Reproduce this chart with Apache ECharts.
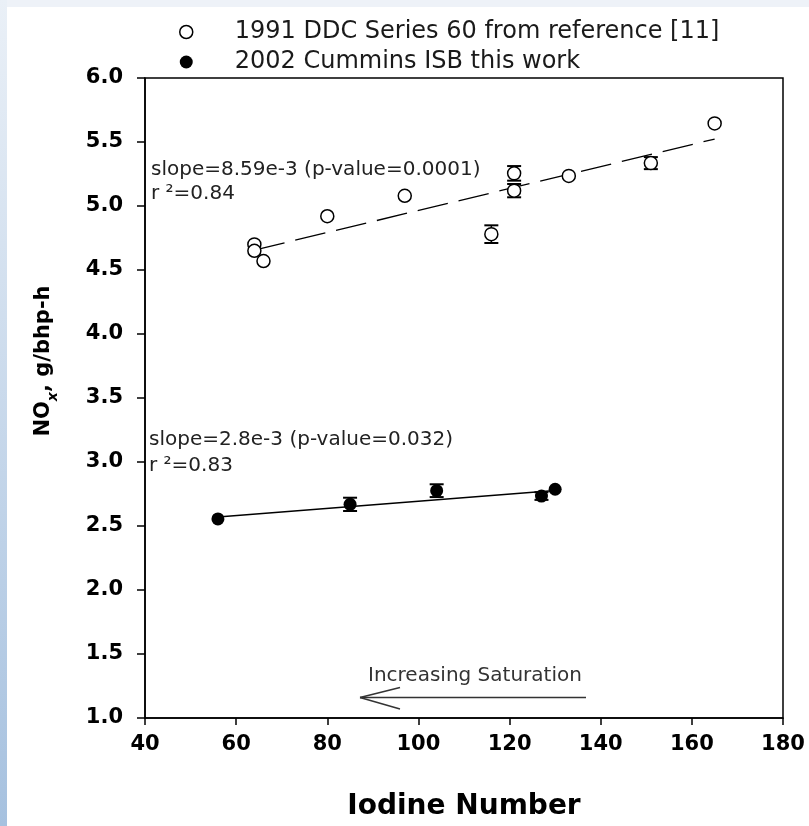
<!DOCTYPE html>
<html>
<head>
<meta charset="utf-8">
<script src="https://cdn.jsdelivr.net/npm/echarts@6/dist/echarts.min.js"></script>
<style>
  html, body { margin: 0; padding: 0; background: #fff; }
  #chart { width: 809px; height: 826px; }
</style>
</head>
<body>
<div id="chart"></div>
<script>
// 1991 DDC Series 60 (open circles)
const openName = '1991 DDC Series 60 from reference [11]';
const openX   = [64, 64, 66, 80, 97, 116, 121, 121, 133, 151, 165];
const openY   = [4.70, 4.65, 4.57, 4.92, 5.08, 4.78, 5.255, 5.12, 5.235, 5.335, 5.645];
const openErr = [0, 0, 0, 0, 0, 0.069, 0.057, 0.052, 0, 0.047, 0];

// 2002 Cummins ISB (filled circles)
const filledName = '2002 Cummins ISB this work';
const filledX   = [56, 85, 104, 127, 130];
const filledY   = [2.555, 2.669, 2.776, 2.734, 2.787];
const filledErr = [0, 0.052, 0.05, 0.03, 0];

// regression line end points
const fitOpenX   = [64, 165];
const fitOpenY   = [4.656, 5.523];
const fitFilledX = [56, 130];
const fitFilledY = [2.57, 2.777];

// axis ticks
const xTicks = { min: 40, max: 180, step: 20 };
const yTicks = { min: 1.0, max: 6.0, step: 0.5 };

const FONT = 'DejaVu Sans';

function pairs(xs, ys) { return xs.map((x, i) => [x, ys[i]]); }
function errRows(xs, ys, es) {
  return xs.map((x, i) => [x, ys[i], es[i]]).filter(r => r[2] > 0);
}

// vertical error bar with end caps
function errorBar(params, api) {
  const x = api.value(0), y = api.value(1), e = api.value(2);
  const hi = api.coord([x, y + e]);
  const lo = api.coord([x, y - e]);
  const hw = 7;
  return {
    type: 'group',
    children: [
      { type: 'line', shape: { x1: hi[0], y1: hi[1], x2: lo[0], y2: lo[1] }, style: { stroke: '#000', lineWidth: 1.5 } },
      { type: 'line', shape: { x1: hi[0] - hw, y1: hi[1], x2: hi[0] + hw, y2: hi[1] }, style: { stroke: '#000', lineWidth: 2 } },
      { type: 'line', shape: { x1: lo[0] - hw, y1: lo[1], x2: lo[0] + hw, y2: lo[1] }, style: { stroke: '#000', lineWidth: 2 } }
    ]
  };
}

const chart = echarts.init(document.getElementById('chart'), null, { renderer: 'canvas' });

const axisLabelStyle = { fontFamily: FONT, fontSize: 21, fontWeight: 'bold', color: '#000' };

chart.setOption({
  backgroundColor: '#fff',
  animation: false,
  grid: {
    left: 145, right: 26, top: 78, bottom: 108,
    show: true, borderColor: '#000', borderWidth: 1.5, backgroundColor: '#fff'
  },
  legend: {
    orient: 'vertical',
    left: 179, top: 20, padding: 0,
    itemGap: 6, itemWidth: 13, itemHeight: 13,
    textStyle: { fontFamily: FONT, fontSize: 24, color: '#1a1a1a', padding: [0, 0, 0, 37] },
    data: [
      { name: openName, icon: 'circle', itemStyle: { color: '#fff', borderColor: '#000', borderWidth: 1.5 } },
      { name: filledName, icon: 'circle', itemStyle: { color: '#000', borderWidth: 0 } }
    ]
  },
  xAxis: {
    type: 'value',
    min: xTicks.min, max: xTicks.max, interval: xTicks.step,
    axisLine: { show: true, lineStyle: { color: '#000', width: 1.5 } },
    axisTick: { show: true, inside: false, length: 7, lineStyle: { color: '#000', width: 1.5 } },
    axisLabel: Object.assign({ margin: 16 }, axisLabelStyle),
    splitLine: { show: false },
    name: 'Iodine Number',
    nameLocation: 'middle',
    nameGap: 75,
    nameTextStyle: { fontFamily: FONT, fontSize: 28, fontWeight: 'bold', color: '#000' }
  },
  yAxis: {
    type: 'value',
    min: yTicks.min, max: yTicks.max, interval: yTicks.step,
    axisLine: { show: true, lineStyle: { color: '#000', width: 1.5 } },
    axisTick: { show: true, inside: false, length: 8, lineStyle: { color: '#000', width: 1.5 } },
    axisLabel: Object.assign({ margin: 22, formatter: v => v.toFixed(1) }, axisLabelStyle),
    splitLine: { show: false }
  },
  graphic: [
    // slide edge shading
    { type: 'rect', left: 0, top: 0, shape: { width: 809, height: 7 }, style: { fill: '#eef2f8' }, silent: true },
    {
      type: 'rect', left: 0, top: 0, shape: { width: 7, height: 826 }, silent: true,
      style: {
        fill: new echarts.graphic.LinearGradient(0, 0, 0, 1, [
          { offset: 0, color: '#eaf0f7' },
          { offset: 1, color: '#a6c1df' }
        ])
      }
    },
    // y-axis title with subscript x
    {
      type: 'text', x: 47, y: 361, rotation: Math.PI / 2,
      style: {
        text: '{a|NO}{b|x}{a|, g/bhp-h}',
        align: 'center', verticalAlign: 'middle',
        rich: {
          a: { fontFamily: FONT, fontSize: 21, fontWeight: 'bold', color: '#000', lineHeight: 21, verticalAlign: 'top' },
          b: { fontFamily: FONT, fontSize: 14, fontWeight: 'bold', fontStyle: 'italic', color: '#000', lineHeight: 27, verticalAlign: 'bottom' }
        }
      }
    },
    // regression annotations
    { type: 'text', x: 151, y: 170, style: { text: 'slope=8.59e-3 (p-value=0.0001)', fontFamily: FONT, fontSize: 20, fill: '#222', verticalAlign: 'middle' } },
    { type: 'text', x: 151, y: 194, style: { text: 'r \u00b2=0.84', fontFamily: FONT, fontSize: 20, fill: '#222', verticalAlign: 'middle' } },
    { type: 'text', x: 149, y: 440, style: { text: 'slope=2.8e-3 (p-value=0.032)', fontFamily: FONT, fontSize: 20, fill: '#222', verticalAlign: 'middle' } },
    { type: 'text', x: 149, y: 466, style: { text: 'r \u00b2=0.83', fontFamily: FONT, fontSize: 20, fill: '#222', verticalAlign: 'middle' } },
    // saturation arrow
    { type: 'text', x: 368, y: 676, style: { text: 'Increasing Saturation', fontFamily: FONT, fontSize: 20, fill: '#333', verticalAlign: 'middle' } },
    { type: 'line', shape: { x1: 360, y1: 697.5, x2: 586, y2: 697.5 }, style: { stroke: '#333', lineWidth: 1.5 } },
    { type: 'line', shape: { x1: 360, y1: 697.5, x2: 400, y2: 687.5 }, style: { stroke: '#333', lineWidth: 1.5 } },
    { type: 'line', shape: { x1: 360, y1: 697.5, x2: 400, y2: 709 }, style: { stroke: '#333', lineWidth: 1.5 } }
  ],
  series: [
    {
      name: 'fit-open', type: 'line', data: pairs(fitOpenX, fitOpenY),
      showSymbol: false, silent: true, z: 1,
      lineStyle: { color: '#000', width: 1.3, type: [31, 11] }
    },
    {
      name: 'fit-filled', type: 'line', data: pairs(fitFilledX, fitFilledY),
      showSymbol: false, silent: true, z: 1,
      lineStyle: { color: '#000', width: 1.5, type: 'solid' }
    },
    {
      name: 'err-open', type: 'custom', renderItem: errorBar, z: 2,
      encode: { x: 0, y: 1 }, data: errRows(openX, openY, openErr)
    },
    {
      name: 'err-filled', type: 'custom', renderItem: errorBar, z: 2,
      encode: { x: 0, y: 1 }, data: errRows(filledX, filledY, filledErr)
    },
    {
      name: openName, type: 'scatter', data: pairs(openX, openY), z: 3,
      symbol: 'circle', symbolSize: 13,
      itemStyle: { color: '#fff', borderColor: '#000', borderWidth: 1.5, opacity: 1 }
    },
    {
      name: filledName, type: 'scatter', data: pairs(filledX, filledY), z: 3,
      symbol: 'circle', symbolSize: 13,
      itemStyle: { color: '#000', opacity: 1 }
    }
  ]
});
</script>
</body>
</html>
